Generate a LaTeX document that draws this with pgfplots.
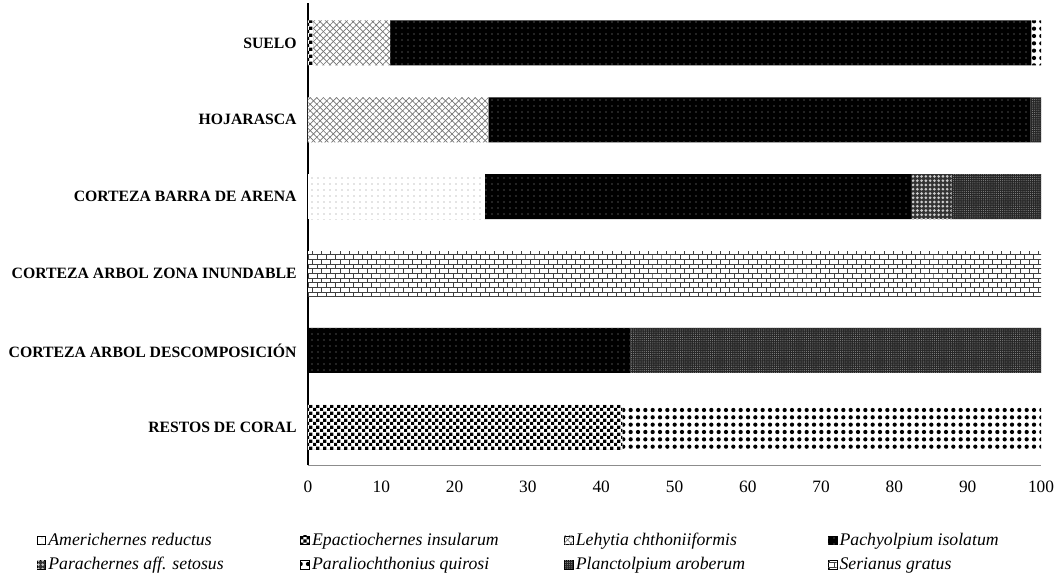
\documentclass[border=0pt]{standalone}
\usepackage{fontspec}
\setmainfont{Liberation Serif}
\usepackage{pgfplots}
\pgfplotsset{compat=1.18}
\usetikzlibrary{patterns,patterns.meta}

\newcommand{\spname}[1]{\makebox[187pt][l]{\itshape #1}}

% finer checkerboard and bricks than the stock ones
\pgfdeclarepatternformonly{finechecker}{\pgfpointorigin}{\pgfqpoint{5pt}{5pt}}{\pgfqpoint{5pt}{5pt}}{%
  \pgfpathrectangle{\pgfpointorigin}{\pgfqpoint{2.5pt}{2.5pt}}%
  \pgfpathrectangle{\pgfqpoint{2.5pt}{2.5pt}}{\pgfqpoint{2.5pt}{2.5pt}}%
  \pgfusepath{fill}}
\pgfdeclarepatternformonly{finebricks}{\pgfqpoint{-0.4pt}{-0.4pt}}{\pgfqpoint{7.2pt}{7.4pt}}{\pgfqpoint{6.8pt}{7pt}}{%
  \pgfsetlinewidth{0.7pt}%
  \pgfpathmoveto{\pgfqpoint{0pt}{0pt}}\pgfpathlineto{\pgfqpoint{6.8pt}{0pt}}%
  \pgfpathmoveto{\pgfqpoint{0pt}{3.5pt}}\pgfpathlineto{\pgfqpoint{6.8pt}{3.5pt}}%
  \pgfpathmoveto{\pgfqpoint{0pt}{0pt}}\pgfpathlineto{\pgfqpoint{0pt}{3.5pt}}%
  \pgfpathmoveto{\pgfqpoint{3.4pt}{3.5pt}}\pgfpathlineto{\pgfqpoint{3.4pt}{7pt}}%
  \pgfusepath{stroke}}

\begin{document}
\begin{tikzpicture}
\begin{axis}[
    scale only axis,
    width=549.75pt, height=346.5pt,
    xbar stacked,
    bar width=33.75pt,
    xmin=0, xmax=100,
    ymin=-0.49, ymax=5.52,
    xtick={0,10,...,100},
    ytick={0,...,5},
    yticklabels={RESTOS DE CORAL, CORTEZA ARBOL DESCOMPOSICIÓN, CORTEZA ARBOL ZONA INUNDABLE, CORTEZA BARRA DE ARENA, HOJARASCA, SUELO},
    axis lines*=left,
    x axis line style={draw=black!45, line width=0.6pt},
    y axis line style={draw=black, line width=1pt},
    major tick length=0pt,
    /pgf/number format/assume math mode=true,
    xticklabel style={font=\fontsize{13}{15}\selectfont, yshift=-8.5pt},
    yticklabel style={font=\fontsize{11.8}{13}\selectfont\bfseries, xshift=-5pt},
    legend columns=4,
    legend cell align=left,
    legend style={draw=none, at={(-0.376,-0.135)}, anchor=north west,
        font=\fontsize{13.3}{15}\selectfont,
        /tikz/every even column/.append style={column sep=0pt},
        row sep=3.5pt},
    legend image code/.code={\draw[#1, draw=black, line width=0.3pt] (0pt,-3.2pt) rectangle (6.5pt,3.2pt);},
]
% Americhernes reductus
\addplot[draw=none, fill=white, postaction={pattern={Dots[distance=4.5pt,radius=0.45pt]}, pattern color=black!45}]
  coordinates {(0,0) (0,1) (0,2) (24.1,3) (0,4) (0,5)};
\addlegendentry{\spname{Americhernes reductus}}
% Epactiochernes insularum
\addplot[draw=none, fill=white, postaction={pattern=finechecker, pattern color=black}]
  coordinates {(42.9,0) (0,1) (0,2) (0,3) (0,4) (0.7,5)};
\addlegendentry{\spname{Epactiochernes insularum}}
% Lehytia chthoniiformis
\addplot[draw=none, fill=white, postaction={pattern={Lines[angle=45,distance=3.5pt,line width=0.5pt]}, pattern color=black!55}, postaction={pattern={Lines[angle=-45,distance=3.5pt,line width=0.5pt]}, pattern color=black!55}]
  coordinates {(0,0) (0,1) (0,2) (0,3) (24.6,4) (10.5,5)};
\addlegendentry{\spname{Lehytia chthoniiformis}}
% Pachyolpium isolatum
\addplot[draw=none, fill=black, postaction={pattern={Dots[distance=4.5pt,radius=0.45pt]}, pattern color=black!40}]
  coordinates {(0,0) (44.0,1) (0,2) (58.2,3) (74.0,4) (87.5,5)};
\addlegendentry{\spname{Pachyolpium isolatum}}
% Parachernes aff. setosus
\addplot[draw=none, fill=black!80, postaction={pattern={Dots[distance=3.2pt,radius=1.1pt]}, pattern color=white!80!black}]
  coordinates {(0,0) (0,1) (0,2) (5.5,3) (0,4) (0,5)};
\addlegendentry{\spname{Parachernes aff. setosus}}
% Paraliochthonius quirosi
\addplot[draw=none, fill=white, postaction={pattern={Dots[distance=5.5pt,radius=1.6pt]}, pattern color=black}]
  coordinates {(57.1,0) (0,1) (0,2) (0,3) (0,4) (1.3,5)};
\addlegendentry{\spname{Paraliochthonius quirosi}}
% Planctolpium aroberum
\addplot[draw=none, fill=black!85, postaction={pattern={Dots[distance=1.6pt,radius=0.4pt]}, pattern color=black!45}]
  coordinates {(0,0) (56.0,1) (0,2) (12.2,3) (1.4,4) (0,5)};
\addlegendentry{\spname{Planctolpium aroberum}}
% Serianus gratus
\addplot[draw=none, fill=white, postaction={pattern=finebricks, pattern color=black!75}]
  coordinates {(0,0) (0,1) (100,2) (0,3) (0,4) (0,5)};
\addlegendentry{\spname{Serianus gratus}}
\end{axis}
\pgfresetboundingbox
\path ([shift={(-231pt,-90.75pt)}]current axis.south west) rectangle ([shift={(564pt,348.75pt)}]current axis.south west);
\end{tikzpicture}
\end{document}
